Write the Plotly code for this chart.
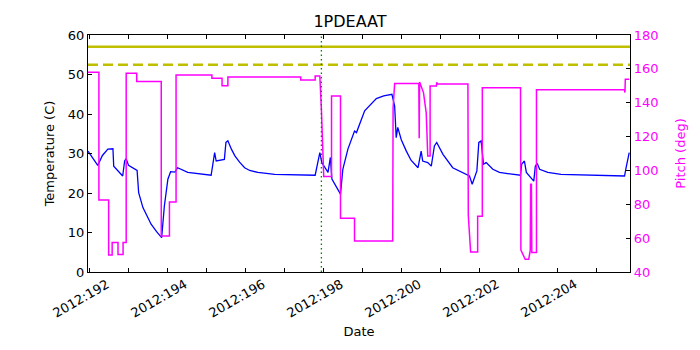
import plotly.graph_objects as go

# day of year 2012 (fractional)
temp_days = [190.96, 191.21, 191.33, 191.47, 191.60, 191.62, 191.85, 191.90, 191.94, 192.00,
             192.22, 192.26, 192.37, 192.58, 192.72, 192.85, 192.92, 193.01, 193.08, 193.19,
             193.26, 193.52, 194.12, 194.21, 194.25, 194.46, 194.50, 194.55, 194.64, 194.73,
             194.85, 194.98, 195.11, 195.32, 195.75, 196.79, 196.91, 196.96, 197.12, 197.18,
             197.22, 197.33, 197.44, 197.50, 197.63, 197.80, 197.85, 198.06, 198.10, 198.36,
             198.55, 198.76, 198.83, 198.87, 198.91, 199.00, 199.13, 199.25, 199.43, 199.51,
             199.55, 199.68, 199.77, 199.85, 199.91, 200.07, 200.32, 200.68, 200.75, 200.82,
             200.88, 200.94, 200.99, 201.05, 201.11, 201.18, 201.35, 201.52, 201.73, 202.06,
             202.09, 202.16, 202.21, 202.33, 202.40, 202.44, 202.49, 202.55, 202.76, 203.10,
             204.73, 204.77, 204.85]
temp_vals = [30.6, 27.0, 29.5, 31.1, 31.2, 26.8, 24.3, 28.1, 28.7, 27.0,
             25.7, 20.1, 16.3, 12.1, 10.2, 8.7, 16.7, 23.5, 25.4, 25.3,
             26.4, 25.2, 24.5, 30.2, 28.1, 28.5, 32.8, 33.2, 31.1, 29.4,
             27.8, 26.4, 25.7, 25.2, 24.7, 24.5, 30.2, 27.7, 25.2, 29.0,
             23.5, 21.4, 19.7, 26.0, 31.1, 35.7, 35.3, 40.8, 41.2, 43.9,
             44.6, 45.0, 42.0, 34.0, 36.6, 33.5, 30.6, 28.3, 26.4, 30.6,
             28.1, 27.7, 26.8, 31.9, 32.8, 29.8, 26.4, 24.7, 24.3, 22.2,
             23.9, 25.6, 32.8, 33.2, 27.3, 27.7, 26.0, 25.2, 24.9, 24.5,
             27.3, 28.1, 25.2, 23.9, 23.0, 26.8, 27.5, 26.0, 25.2, 24.7,
             24.3, 26.4, 30.2]

pitch_days = [190.96, 191.24, 191.24, 191.49, 191.49, 191.58, 191.58, 191.73, 191.73, 191.86,
              191.86, 191.94, 191.94, 192.21, 192.21, 192.84, 192.84, 193.05, 193.05, 193.22,
              193.22, 194.14, 194.14, 194.40, 194.40, 194.55, 194.55, 196.42, 196.42, 196.79,
              196.79, 196.91, 196.95, 197.01, 197.21, 197.21, 197.44, 197.44, 197.80, 197.80,
              198.78, 198.79, 198.83, 199.45, 199.46, 199.47, 199.57, 199.64, 199.68, 199.74,
              199.74, 199.90, 199.91, 199.93, 200.71, 200.72, 200.78, 200.96, 200.96, 201.08,
              201.08, 202.06, 202.07, 202.18, 202.27, 202.31, 202.32, 202.34, 202.35, 202.47,
              202.47, 204.73, 204.74, 204.75, 204.85]
pitch_vals = [158.0, 158.0, 82.5, 82.5, 50.0, 50.0, 57.4, 57.4, 50.3, 50.3,
              57.4, 57.4, 157.4, 157.4, 152.5, 152.5, 61.3, 61.3, 81.3, 81.3,
              156.4, 156.4, 154.4, 154.4, 150.0, 150.0, 155.2, 155.2, 153.4, 153.4,
              155.8, 155.8, 136.0, 96.4, 96.4, 144.0, 144.0, 71.7, 71.7, 58.3,
              58.3, 137.0, 151.3, 151.3, 119.0, 152.2, 146.0, 134.0, 108.5, 108.5,
              149.9, 149.9, 152.0, 151.0, 151.0, 73.5, 51.8, 51.8, 73.0, 73.0,
              148.9, 148.9, 53.0, 47.5, 47.5, 52.7, 91.8, 91.8, 51.5, 51.5,
              147.6, 147.6, 146.0, 153.8, 153.8]

planning_limit = 57.0
caution_limit = 52.5
event_day = 196.95

tick_days = list(range(191, 205))
label_days = [192, 194, 196, 198, 200, 202, 204]
label_text = ["2012:%d" % d for d in label_days]

font = "DejaVu Sans"

fig = go.Figure()
fig.add_trace(go.Scatter(x=temp_days, y=temp_vals, mode="lines",
                         line=dict(color="#0000ff", width=1.3), yaxis="y"))
fig.add_trace(go.Scatter(x=pitch_days, y=pitch_vals, mode="lines",
                         line=dict(color="#ff00ff", width=1.5), yaxis="y2"))

fig.add_hline(y=planning_limit, line=dict(color="#bfbf00", width=2.5), layer="below")
fig.add_hline(y=caution_limit, line=dict(color="#bfbf00", width=2.5, dash="10px,5px"), layer="below")
fig.add_vline(x=event_day, line=dict(color="#008000", width=1.3, dash="1.5px,3px"))

# rotated date labels, right end anchored at the tick (matplotlib autofmt_xdate look)
for d, t in zip(label_days, label_text):
    fig.add_annotation(x=d, xref="x", y=0, yref="paper", text=t, showarrow=False,
                       textangle=-30, xanchor="right", yanchor="top",
                       xshift=-14, yshift=-2, font=dict(size=13, family=font))

fig.update_layout(
    width=700, height=350,
    margin=dict(l=88, r=70, t=35, b=78),
    paper_bgcolor="white", plot_bgcolor="white",
    showlegend=False,
    font=dict(family=font, size=13, color="black"),
    title=dict(text="1PDEAAT", x=0.5, xanchor="center", y=0.94, yanchor="middle",
               font=dict(size=16, family=font)),
    xaxis=dict(
        range=[190.96, 204.87], tickvals=tick_days, showticklabels=False,
        ticks="inside", ticklen=4, tickcolor="black",
        showline=True, linecolor="black", linewidth=1.2, mirror="ticks",
        showgrid=False, zeroline=False, automargin=False,
        title=dict(text="Date", standoff=54, font=dict(size=13)),
    ),
    yaxis=dict(
        range=[0, 60], dtick=10, ticks="inside", ticklen=4, tickcolor="black",
        showline=True, linecolor="black", linewidth=1.2, mirror=True,
        showgrid=False, zeroline=False, automargin=False,
        title=dict(text="Temperature (C)", standoff=10, font=dict(size=13)),
    ),
    yaxis2=dict(
        range=[40, 180], dtick=20, overlaying="y", side="right",
        ticks="inside", ticklen=4, tickcolor="black",
        tickfont=dict(color="#ff00ff", size=13),
        showline=True, linecolor="black", linewidth=1.2,
        showgrid=False, zeroline=False, automargin=False,
        title=dict(text="Pitch (deg)", standoff=18, font=dict(color="#ff00ff", size=13)),
    ),
)

fig.write_html("out.html", config={"displayModeBar": False},
               post_script="document.body.style.margin='0px';")
